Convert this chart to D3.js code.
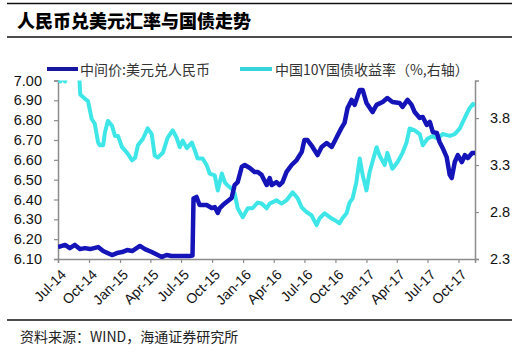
<!DOCTYPE html>
<html><head><meta charset="utf-8">
<script src="https://cdn.jsdelivr.net/npm/d3@7"></script>
<style>
body{margin:0;background:#fff;}
svg{display:block;}
text{font-family:"Liberation Sans",Arial,sans-serif;}
.cjk{font-family:"Noto Sans CJK SC","Liberation Sans",sans-serif;}
</style></head>
<body><svg id="c" width="527" height="353"></svg>
<script>
const title = "人民币兑美元汇率与国债走势";
const source = "资料来源：WIND，海通证券研究所";
const seriesNames = ["中间价:美元兑人民币", "中国10Y国债收益率（%,右轴）"];
const xTickLabels = ["Jul-14","Oct-14","Jan-15","Apr-15","Jul-15","Oct-15","Jan-16","Apr-16","Jul-16","Oct-16","Jan-17","Apr-17","Jul-17","Oct-17"];
const leftTicks = [6.10,6.20,6.30,6.40,6.50,6.60,6.70,6.80,6.90,7.00];
const rightTicks = [2.3,2.8,3.3,3.8];

const fxDates = ["2014-07-01","2014-07-22","2014-08-05","2014-08-20","2014-09-04","2014-09-19","2014-10-04","2014-10-28","2014-11-12","2014-12-08","2014-12-23","2015-01-07","2015-01-22","2015-02-06","2015-03-01","2015-03-16","2015-04-05","2015-04-23","2015-05-05","2015-05-19","2015-06-03","2015-06-27","2015-07-27","2015-08-04","2015-08-07","2015-08-16","2015-08-25","2015-09-15","2015-09-30","2015-10-09","2015-10-18","2015-10-24","2015-11-02","2015-11-13","2015-11-28","2015-12-07","2015-12-16","2015-12-28","2016-01-06","2016-01-21","2016-02-04","2016-02-13","2016-02-25","2016-03-11","2016-03-20","2016-03-26","2016-04-09","2016-04-18","2016-04-27","2016-05-09","2016-05-24","2016-06-08","2016-06-23","2016-07-01","2016-07-10","2016-07-25","2016-08-09","2016-08-21","2016-09-05","2016-09-20","2016-10-05","2016-10-19","2016-10-28","2016-11-06","2016-11-18","2016-11-27","2016-12-12","2016-12-21","2017-01-01","2017-01-19","2017-01-31","2017-02-18","2017-03-04","2017-03-19","2017-04-09","2017-04-18","2017-05-03","2017-05-15","2017-05-24","2017-06-08","2017-06-17","2017-06-29","2017-07-08","2017-07-17","2017-07-29","2017-08-06","2017-08-15","2017-08-27","2017-09-05","2017-09-11","2017-09-20","2017-09-29","2017-10-11","2017-10-20","2017-10-29","2017-11-10","2017-11-19"];
const fxValues = [6.160,6.171,6.155,6.171,6.150,6.155,6.150,6.160,6.140,6.120,6.130,6.135,6.145,6.140,6.166,6.150,6.135,6.120,6.110,6.120,6.115,6.115,6.115,6.118,6.405,6.413,6.372,6.372,6.357,6.362,6.332,6.357,6.372,6.387,6.408,6.473,6.488,6.564,6.574,6.559,6.539,6.539,6.524,6.473,6.508,6.473,6.488,6.473,6.488,6.539,6.574,6.599,6.640,6.700,6.700,6.665,6.624,6.665,6.685,6.665,6.715,6.761,6.786,6.861,6.902,6.877,6.952,6.952,6.887,6.841,6.877,6.892,6.912,6.892,6.887,6.867,6.902,6.877,6.841,6.811,6.816,6.776,6.791,6.740,6.735,6.690,6.660,6.614,6.524,6.508,6.589,6.624,6.589,6.624,6.609,6.634,6.634];

const bondDates = ["2014-07-01","2014-07-08","2014-07-15","2014-07-22","2014-07-29","2014-08-10","2014-08-25","2014-09-02","2014-09-05","2014-09-19","2014-09-28","2014-10-09","2014-10-18","2014-10-28","2014-11-02","2014-11-12","2014-11-17","2014-11-26","2014-12-08","2014-12-17","2014-12-26","2015-01-07","2015-01-22","2015-02-06","2015-02-15","2015-02-23","2015-03-10","2015-03-24","2015-04-05","2015-04-14","2015-04-23","2015-05-08","2015-05-22","2015-06-06","2015-06-18","2015-06-27","2015-07-06","2015-07-18","2015-08-02","2015-08-11","2015-08-19","2015-09-03","2015-09-15","2015-09-24","2015-10-09","2015-10-18","2015-10-30","2015-11-08","2015-11-17","2015-11-28","2015-12-07","2015-12-16","2015-12-31","2016-01-15","2016-01-29","2016-02-13","2016-02-25","2016-03-11","2016-03-20","2016-03-26","2016-04-09","2016-04-24","2016-05-09","2016-05-27","2016-06-11","2016-06-23","2016-07-07","2016-07-22","2016-08-06","2016-08-15","2016-08-30","2016-09-14","2016-09-29","2016-10-13","2016-10-22","2016-11-03","2016-11-12","2016-11-21","2016-12-02","2016-12-12","2016-12-21","2017-01-01","2017-01-10","2017-01-31","2017-02-09","2017-02-24","2017-03-04","2017-03-19","2017-04-03","2017-04-18","2017-04-30","2017-05-09","2017-05-24","2017-06-08","2017-06-17","2017-07-01","2017-07-17","2017-07-31","2017-08-15","2017-09-05","2017-09-20","2017-10-05","2017-10-26","2017-11-04","2017-11-13","2017-11-19"];
const bondValues = [4.22,4.19,4.23,4.19,4.26,4.30,4.28,4.25,4.05,4.005,3.98,3.79,3.74,3.54,3.51,3.51,3.645,3.77,3.72,3.61,3.61,3.49,3.43,3.35,3.38,3.51,3.58,3.69,3.63,3.40,3.38,3.43,3.59,3.67,3.59,3.49,3.56,3.48,3.54,3.455,3.37,3.37,3.30,3.21,3.19,3.03,3.21,3.116,3.08,3.05,3.00,2.84,2.745,2.84,2.84,2.90,2.89,2.84,2.89,2.90,2.925,2.89,2.925,3.01,2.946,2.85,2.80,2.766,2.66,2.734,2.787,2.745,2.713,2.68,2.734,2.787,2.90,2.946,3.116,3.37,3.19,3.03,3.22,3.49,3.40,3.30,3.43,3.26,3.33,3.43,3.54,3.69,3.67,3.63,3.51,3.58,3.61,3.58,3.63,3.61,3.63,3.69,3.85,3.91,3.95,3.93];

const parse = d3.timeParse("%Y-%m-%d");
const fx = fxDates.map((d,i)=>({date:parse(d), v:fxValues[i]}));
const bond = bondDates.map((d,i)=>({date:parse(d), v:bondValues[i]}));

const svg = d3.select("#c");
const L = 58, R = 475, T = 80.5, B = 259;

const x = d3.scaleTime().domain([parse("2014-07-01"), parse("2017-11-19")]).range([L, R]);
const yL = d3.scaleLinear().domain([6.10, 7.00]).range([B, T]);
const yR = d3.scaleLinear().domain([2.3, 4.2]).range([B, T]);

svg.append("line").attr("x1",7).attr("x2",512).attr("y1",3.5).attr("y2",3.5).attr("stroke","#111").attr("stroke-width",1.3);
svg.append("line").attr("x1",7).attr("x2",512).attr("y1",37).attr("y2",37).attr("stroke","#111").attr("stroke-width",1.3);
svg.append("line").attr("x1",7).attr("x2",512).attr("y1",320).attr("y2",320).attr("stroke","#111").attr("stroke-width",1.3);

svg.append("text").attr("class","cjk").attr("x",17).attr("y",20).attr("dominant-baseline","central")
  .attr("font-size",18).attr("font-weight",900).attr("fill","#000").text(title);
svg.append("text").attr("class","cjk").attr("x",20).attr("y",336).attr("dominant-baseline","central")
  .attr("font-size",14).attr("fill","#222").text(source);

svg.append("clipPath").attr("id","clip").append("rect").attr("x",L).attr("y",T).attr("width",R-L).attr("height",B-T);

const gridColor = "#8c8c8c";
const axL = svg.append("g").attr("transform",`translate(${L},0)`)
  .call(d3.axisLeft(yL).tickValues(leftTicks).tickFormat(d3.format(".2f")).tickSize(4).tickPadding(12));
axL.select(".domain").attr("stroke",gridColor).attr("stroke-width",1.5);
axL.selectAll(".tick line").attr("stroke",gridColor).attr("stroke-width",1.2);
axL.selectAll("text").attr("font-size",14.5).attr("fill","#111").attr("font-family","Liberation Sans, Arial, sans-serif");

const axR = svg.append("g").attr("transform",`translate(${R},0)`)
  .call(d3.axisRight(yR).tickValues(rightTicks).tickFormat(d3.format(".1f")).tickSize(4).tickPadding(11));
axR.select(".domain").attr("stroke",gridColor).attr("stroke-width",1.5);
axR.selectAll(".tick line").attr("stroke",gridColor).attr("stroke-width",1.2);
axR.selectAll("text").attr("font-size",14.5).attr("fill","#111").attr("font-family","Liberation Sans, Arial, sans-serif");

const xTickDates = xTickLabels.map(s => d3.timeParse("%b-%y")(s));
const axX = svg.append("g").attr("transform",`translate(0,${B})`)
  .call(d3.axisBottom(x).tickValues(xTickDates).tickFormat((d,i)=>xTickLabels[i]).tickSize(4));
axX.select(".domain").attr("stroke",gridColor).attr("stroke-width",1.5);
axX.selectAll(".tick line").attr("stroke",gridColor).attr("stroke-width",1.2);
axX.selectAll("text").attr("font-size",14).attr("fill","#111").attr("font-family","Liberation Sans, Arial, sans-serif")
  .attr("text-anchor","end").attr("dy",null).attr("dominant-baseline","central")
  .attr("transform","translate(5,13) rotate(-45)").attr("x",0).attr("y",0);

const plot = svg.append("g").attr("clip-path","url(#clip)");
const blue = "#1414b8", cyan = "#3fe6e8";
plot.append("path").datum(bond).attr("fill","none").attr("stroke",cyan).attr("stroke-width",4)
  .attr("stroke-linejoin","round")
  .attr("d", d3.line().x(d=>x(d.date)).y(d=>yR(d.v)));
plot.append("path").datum(fx).attr("fill","none").attr("stroke",blue).attr("stroke-width",4.5)
  .attr("stroke-linejoin","round")
  .attr("d", d3.line().x(d=>x(d.date)).y(d=>yL(d.v)));

const lg = svg.append("g");
lg.append("line").attr("x1",47).attr("x2",78).attr("y1",69).attr("y2",69).attr("stroke","#16169e").attr("stroke-width",4);
lg.append("text").attr("class","cjk").attr("x",80).attr("y",69).attr("dominant-baseline","central").attr("font-size",14).attr("fill","#333").text(seriesNames[0]);
lg.append("line").attr("x1",240).attr("x2",272).attr("y1",69).attr("y2",69).attr("stroke","#38d4dc").attr("stroke-width",4);
lg.append("text").attr("class","cjk").attr("x",275).attr("y",69).attr("dominant-baseline","central").attr("font-size",14).attr("fill","#333").text(seriesNames[1]);
</script></body></html>
